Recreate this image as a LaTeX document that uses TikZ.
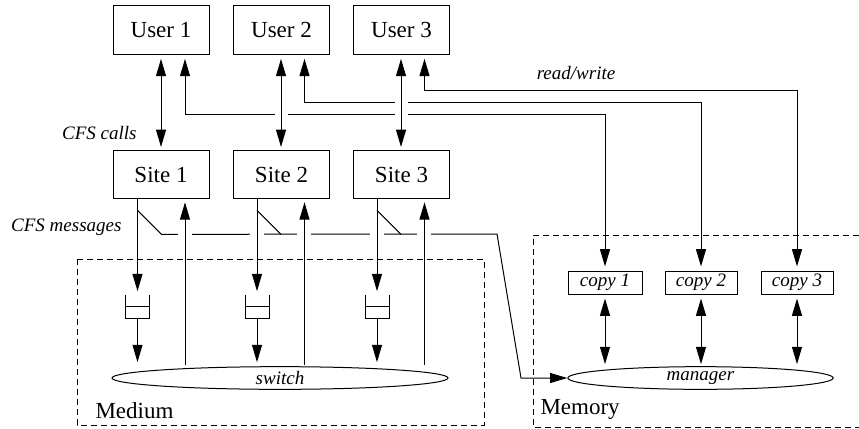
\documentclass[tikz,border=0pt]{standalone}
\usepackage{fontspec}
\setmainfont{Liberation Serif}
\newfontfamily\timesfont{Liberation Serif}
\usetikzlibrary{arrows.meta,shapes.geometric,calc}
\begin{document}
\begin{tikzpicture}[x=0.75pt,y=-0.75pt,line width=0.75pt,
  box/.style={draw,minimum width=72pt,minimum height=36.5pt,inner sep=0pt,
    font=\timesfont\fontsize{17.25}{20}\selectfont},
  copybox/.style={draw,minimum width=54pt,minimum height=17.25pt,inner sep=0pt,
    font=\timesfont\fontsize{14.25}{16}\selectfont\itshape},
  pool/.style={draw,ellipse,inner sep=0pt,minimum height=17pt,
    font=\timesfont\fontsize{14.25}{16}\selectfont\itshape},
  queue/.style={minimum width=17.25pt,minimum height=17.25pt,inner sep=0pt},
  lbl/.style={font=\timesfont\fontsize{14.25}{16}\selectfont\itshape,inner sep=0pt},
  title/.style={font=\timesfont\fontsize{17.25}{20}\selectfont,inner sep=0pt},
  tip/.style={-{Triangle[length=13pt,width=7.5pt]}},
  bothtips/.style={{Triangle[length=13pt,width=7.5pt]}-{Triangle[length=13pt,width=7.5pt]}},
  region/.style={dash pattern=on 4.5pt off 3pt},
  gap/.style={draw=white,line width=3pt}
]
\useasboundingbox (0,0) rectangle (859,428);

% dashed regions
\draw[region] (77,259) rectangle (484,425);
\draw[region] (859,235) -- (533,235) -- (533,427) -- (859,427);
\node[title,anchor=west] (medium) at (95,411) {Medium};
\node[title,anchor=west] (memory) at (540,409) {Memory};

% users and sites
\node[box] (u1) at (161,30) {User 1};
\node[box] (u2) at (281.5,30) {User 2};
\node[box] (u3) at (401.5,30) {User 3};
\node[box] (s1) at (161,174.5) {Site 1};
\node[box] (s2) at (281.5,174.5) {Site 2};
\node[box] (s3) at (401.5,174.5) {Site 3};

% queues, switch, copies, manager
\node[queue] (q1) at (137.5,306.5) {};
\node[queue] (q2) at (257,306.5) {};
\node[queue] (q3) at (377,306.5) {};
\foreach \q in {q1,q2,q3}
  \draw (\q.north west) -- (\q.south west) -- (\q.south east) -- (\q.north east)
        (\q.west) -- (\q.east);
\node[pool,minimum width=252pt] (sw) at (280,378) {switch};
\node[pool,minimum width=199pt] (mgr) at (700.5,378) {manager};
\node[copybox,minimum width=55.5pt] (c1) at (605,282.5) {copy 1};
\node[copybox] (c2) at (701,282.5) {copy 2};
\node[copybox] (c3) at (797,282.5) {copy 3};

% labels
\node[lbl] (rw) at (576,73) {read/write};
\node[lbl,anchor=east] (calls) at (137,133) {CFS calls};
\node[lbl,anchor=east] (msgs) at (122,227) {CFS messages};

% read/write paths from users to their copies
\draw[bothtips,shorten <=3pt,shorten >=3pt] ([xshift=18pt]u1.south) -- ++(0,60) -| (c1.north);
\draw[bothtips,shorten <=3pt,shorten >=3pt] ([xshift=17.25pt]u2.south) -- ++(0,48) -| (c2.north);
\draw[bothtips,shorten <=3pt,shorten >=3pt] ([xshift=17.25pt]u3.south) -- ++(0,36) -| (c3.north);

% message bus from the sites to the manager
\draw[tip] ($(q1.north |- s1.south)+(0,11)$) -- ++(24,24) -- (497,234)
  -- (521,378) -- (mgr.west);
\draw ($(q2.north |- s2.south)+(0,11)$) -- ++(24,24);
\draw ($(q3.north |- s3.south)+(0,11)$) -- ++(24,24);

% crossings
\foreach \x in {185,257,304,377,424}
  \path[gap] (\x-7,234) -- (\x+7,234);
\path[gap] (274.5,114) -- (288,114);
\path[gap] (394.5,114) -- (408,114);
\path[gap] (394.5,102) -- (408,102);

% CFS calls
\draw[bothtips,shorten <=3pt,shorten >=2pt] (u1.south) -- (s1.south |- s1.north);
\draw[bothtips,shorten <=3pt,shorten >=2pt] ([xshift=-0.375pt]u2.south) -- ([xshift=-0.375pt]s2.north);
\draw[bothtips,shorten <=3pt,shorten >=2pt] ([xshift=-0.375pt]u3.south) -- ([xshift=-0.375pt]s3.north);

% sites into queues, queues into the switch
\foreach \q/\s in {q1/s1,q2/s2,q3/s3}{
  \draw[tip,shorten >=2.5pt] (\q.north |- \s.south) -- (\q.north);
  \draw[tip,shorten >=3pt] (\q.south) -- (\q.south |- sw.north);
}

% switch back to the sites
\coordinate (t1) at (185,199);
\coordinate (t2) at (304.5,199);
\coordinate (t3) at (424.5,199);
\foreach \t in {t1,t2,t3}
  \draw[tip,shorten >=2.5pt] ([yshift=0.75pt]\t |- sw.north) -- (\t);

% copies to manager
\foreach \c in {c1,c2,c3}
  \draw[bothtips,shorten <=3pt,shorten >=1.5pt] (\c.south) -- (\c.south |- mgr.north);
\end{tikzpicture}
\end{document}
